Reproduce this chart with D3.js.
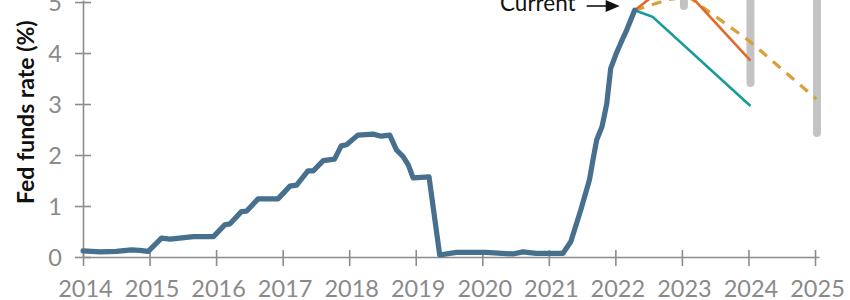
<!DOCTYPE html>
<html>
<head>
<meta charset="utf-8">
<script src="https://cdn.jsdelivr.net/npm/d3@7"></script>
<style>
  html, body { margin: 0; padding: 0; background: #fff; }
  svg { display: block; font-family: Lato, "Open Sans", sans-serif; }
</style>
</head>
<body>
<svg id="chart" width="850" height="300"></svg>
<script>
// ---- data ----
const histYears = [2014.00, 2014.26, 2014.50, 2014.73, 2014.85, 2014.98, 2015.18, 2015.31, 2015.66, 2015.96,
  2016.13, 2016.21, 2016.38, 2016.46, 2016.63, 2016.93, 2017.11, 2017.21, 2017.38, 2017.46,
  2017.61, 2017.78, 2017.88, 2017.96, 2018.13, 2018.36, 2018.48, 2018.61, 2018.71, 2018.81,
  2018.89, 2018.96, 2019.20, 2019.36, 2019.61, 2020.06, 2020.46, 2020.61, 2020.81, 2021.21,
  2021.33, 2021.48, 2021.61, 2021.67, 2021.72, 2021.80, 2021.87, 2021.93, 2022.01, 2022.10,
  2022.17, 2022.29];
const histRates = [0.12, 0.10, 0.11, 0.14, 0.13, 0.11, 0.37, 0.35, 0.40, 0.40,
  0.63, 0.65, 0.89, 0.90, 1.14, 1.14, 1.39, 1.41, 1.69, 1.69,
  1.89, 1.92, 2.18, 2.20, 2.39, 2.41, 2.37, 2.39, 2.10, 1.97,
  1.80, 1.55, 1.57, 0.04, 0.09, 0.09, 0.06, 0.10, 0.07, 0.07,
  0.30, 0.92, 1.51, 1.95, 2.30, 2.56, 3.00, 3.70, 3.98, 4.25,
  4.45, 4.84];

const orangeYears = [2022.29, 2022.90, 2024.03];
const orangeRates = [4.84, 5.45, 3.85];

const tealYears = [2022.29, 2022.56, 2024.03];
const tealRates = [4.84, 4.71, 2.96];

const goldYears = [2022.29, 2022.80, 2023.10, 2024.00, 2025.02];
const goldRates = [4.84, 5.05, 5.10, 4.25, 3.10];

const rangeYears = [2023.03, 2024.03, 2025.03];
const rangeLow = [4.92, 3.41, 2.43];
const rangeHigh = [5.60, 5.90, 6.00];

const xTickLabels = ["2014","2015","2016","2017","2018","2019","2020","2021","2022","2023","2024","2025"];
const yTickLabels = ["0","1","2","3","4","5"];

const currentLabel = "Current";
const yTitle = "Fed funds rate (%)";

// ---- chart ----
const svg = d3.select("#chart");
const x = d3.scaleLinear().domain([2014, 2025.06]).range([83, 819]);
const y = d3.scaleLinear().domain([0, 5.04]).range([257, 0]);

const axisColor = "#8c8c8c";

// x axis
const gx = svg.append("g").attr("transform", `translate(0,${y(0)})`)
  .call(d3.axisBottom(x).tickValues(xTickLabels.map(Number)).tickFormat(d3.format("d")).tickSize(9).tickSizeOuter(0));
gx.select(".domain").attr("stroke", axisColor).attr("stroke-width", 1.6);
gx.selectAll(".tick line").attr("stroke", axisColor).attr("stroke-width", 1.6).attr("y1", -7).attr("y2", 9);
gx.selectAll(".tick text").attr("fill", "#8a8a8a").attr("font-size", 23.5).attr("font-family", "Lato")
  .attr("x", 2).attr("y", 39.5).attr("dy", 0);

// y axis
const gy = svg.append("g").attr("transform", `translate(${x(2014)},0)`)
  .call(d3.axisLeft(y).tickValues(yTickLabels.map(Number)).tickFormat(d3.format("d")).tickSize(8).tickSizeOuter(0));
gy.select(".domain").attr("stroke", axisColor).attr("stroke-width", 1.6);
gy.selectAll(".tick line").attr("stroke", axisColor).attr("stroke-width", 1.6).attr("x1", -8).attr("x2", 8);
gy.selectAll(".tick text").attr("fill", "#8a8a8a").attr("font-size", 23.5).attr("font-family", "Lato")
  .attr("x", -21).attr("dy", "0.36em");

// y title
svg.append("text")
  .attr("transform", `translate(34,${y(2.84)}) rotate(-90)`)
  .attr("text-anchor", "middle")
  .attr("font-size", 23).attr("font-weight", "bold").attr("fill", "#111")
  .text(yTitle);

// range bars
svg.append("g").selectAll("line").data(rangeYears).join("line")
  .attr("x1", d => x(d)).attr("x2", d => x(d))
  .attr("y1", (d, i) => y(rangeLow[i])).attr("y2", (d, i) => y(rangeHigh[i]))
  .attr("stroke", "#c3c3c3").attr("stroke-width", 8).attr("stroke-linecap", "round");

const line = d3.line().x(d => x(d[0])).y(d => y(d[1]));
const zip = (a, b) => a.map((v, i) => [v, b[i]]);

svg.append("path").datum(zip(goldYears, goldRates)).attr("d", line)
  .attr("fill", "none").attr("stroke", "#d9a03a").attr("stroke-width", 3.2)
  .attr("stroke-dasharray", "10,8");
svg.append("path").datum(zip(orangeYears, orangeRates)).attr("d", line)
  .attr("fill", "none").attr("stroke", "#e2692b").attr("stroke-width", 2.6);
svg.append("path").datum(zip(tealYears, tealRates)).attr("d", line)
  .attr("fill", "none").attr("stroke", "#189b9b").attr("stroke-width", 2.6);

// historical
svg.append("path").datum(zip(histYears, histRates)).attr("d", line)
  .attr("fill", "none").attr("stroke", "#47708f").attr("stroke-width", 5.2)
  .attr("stroke-linejoin", "round").attr("stroke-linecap", "round");

// current annotation
const cx = x(histYears[histYears.length - 1]);
const cy = 6;
svg.append("line").attr("x1", cx - 48).attr("x2", cx - 26).attr("y1", cy).attr("y2", cy)
  .attr("stroke", "#111").attr("stroke-width", 1.6);
svg.append("path")
  .attr("d", `M${cx - 29},${cy - 6}L${cx - 15},${cy}L${cx - 29},${cy + 6}Z`)
  .attr("fill", "#111");
svg.append("text").attr("x", cx - 59).attr("y", 11).attr("text-anchor", "end")
  .attr("font-size", 22.5).attr("fill", "#111").text(currentLabel);
</script>
</body>
</html>
